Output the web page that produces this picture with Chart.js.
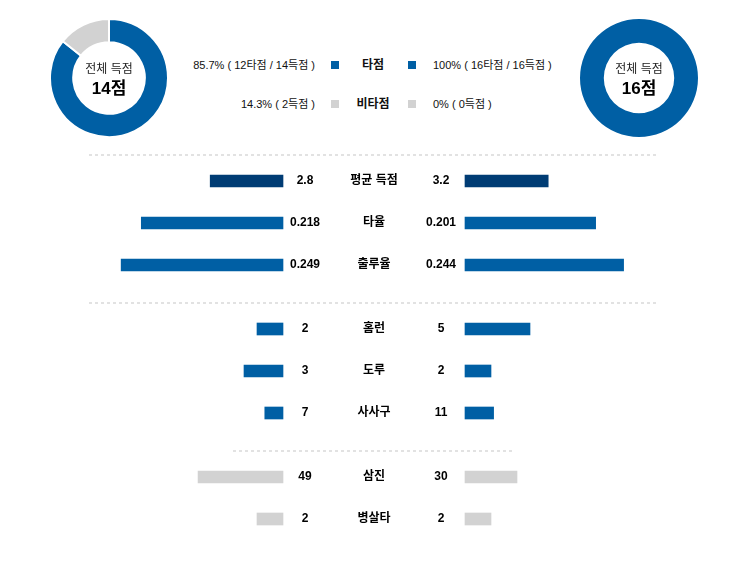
<!DOCTYPE html>
<html>
<head>
<meta charset="utf-8">
<script src="https://cdn.jsdelivr.net/npm/chart.js@4"></script>
<style>
  body { margin: 0; background: #fff; font-family: "Liberation Sans", Arial, "Noto Sans CJK KR", sans-serif; }
  #wrap { position: relative; width: 747px; height: 571px; overflow: hidden; background: #fff; }
  canvas { position: absolute; }
  .dots { position: absolute; height: 2px; background: repeating-linear-gradient(to right, #e2e2e2 0 3px, transparent 3px 6px); }
  .lg { position: absolute; font-size: 11px; color: #111; line-height: 14px; white-space: nowrap; }
  .sq { position: absolute; width: 8px; height: 8px; }
</style>
</head>
<body>
<div id="wrap">
  <canvas id="donutAway" width="124" height="124" style="left:47px;top:16px"></canvas>
  <canvas id="donutHome" width="124" height="124" style="left:577px;top:16px"></canvas>
  <div class="dots" style="left:89px;top:154px;width:568px"></div>
  <canvas id="group0" width="747" height="126" style="left:0;top:160px"></canvas>
  <div class="dots" style="left:89px;top:302px;width:568px"></div>
  <canvas id="group1" width="747" height="126" style="left:0;top:308px"></canvas>
  <div class="dots" style="left:233px;top:450px;width:281px"></div>
  <canvas id="group2" width="747" height="84" style="left:0;top:456px"></canvas>
</div>
<script>
// 득점 구성 (원정, 홈)
const totalRuns = [14, 16];
const rbiRuns = [12, 16];
const nonRbiRuns = [2, 0];
const rbiPct = ['85.7%', '100%'];
const nonRbiPct = ['14.3%', '0%'];

// 비교 항목
const groupLabels = [['평균 득점', '타율', '출루율'], ['홈런', '도루', '사사구'], ['삼진', '병살타']];
const awayValues = [[2.8, 0.218, 0.249], [2, 3, 7], [49, 2]];
const homeValues = [[3.2, 0.201, 0.244], [5, 2, 11], [30, 2]];
const rowMax = [[10, 0.4, 0.4], [20, 20, 100], [150, 20]];

const BLUE = '#005fa4';
const NAVY = '#003c74';
const GRAY = '#d2d2d2';
const groupColors = [[NAVY, BLUE, BLUE], [BLUE, BLUE, BLUE], [GRAY, GRAY]];
const FONT = '"Liberation Sans", Arial, "Noto Sans CJK KR", sans-serif';

const centerText = {
    id: 'centerText',
    afterDraw(chart) {
        const c = chart.ctx;
        const a = chart.getDatasetMeta(0).data[0];
        c.save();
        c.textAlign = 'center';
        c.textBaseline = 'middle';
        c.fillStyle = '#222';
        c.font = '12px ' + FONT;
        c.fillText('전체 득점', a.x, a.y - 8);
        c.fillStyle = '#000';
        c.font = 'bold 17px ' + FONT;
        c.fillText(chart.options.total + '점', a.x, a.y + 11);
        c.restore();
    }
};

function donut(id, i) {
    new Chart(document.getElementById(id), {
        type: 'doughnut',
        data: {
            labels: ['타점', '비타점'],
            datasets: [{
                data: [rbiRuns[i], nonRbiRuns[i]],
                backgroundColor: [BLUE, GRAY],
                borderColor: '#fff',
                borderWidth: nonRbiRuns[i] > 0 ? 2 : 0
            }]
        },
        options: {
            total: totalRuns[i],
            responsive: false,
            animation: false,
            radius: 59,
            cutout: 37,
            layout: { padding: 0 },
            plugins: { legend: { display: false }, tooltip: { enabled: false } }
        },
        plugins: [centerText]
    });
}

donut('donutAway', 0);
donut('donutHome', 1);

// 범례 텍스트
const wrap = document.getElementById('wrap');
function addText(txt, css, bold) {
    const d = document.createElement('div');
    d.className = 'lg';
    d.textContent = txt;
    d.style.cssText = css;
    if (bold) { d.style.fontWeight = 'bold'; d.style.fontSize = '12px'; }
    wrap.appendChild(d);
}
function addSquare(x, y, color) {
    const d = document.createElement('div');
    d.className = 'sq';
    d.style.left = x + 'px';
    d.style.top = y + 'px';
    d.style.background = color;
    wrap.appendChild(d);
}
const legendRows = [
    { name: '타점', color: BLUE, y: 65,
      left: `${rbiPct[0]} ( ${rbiRuns[0]}타점 / ${totalRuns[0]}득점 )`,
      right: `${rbiPct[1]} ( ${rbiRuns[1]}타점 / ${totalRuns[1]}득점 )` },
    { name: '비타점', color: GRAY, y: 104,
      left: `${nonRbiPct[0]} ( ${nonRbiRuns[0]}득점 )`,
      right: `${nonRbiPct[1]} ( ${nonRbiRuns[1]}득점 )` }
];
legendRows.forEach(r => {
    addText(r.left, `right:${747 - 315}px;top:${r.y - 7}px;text-align:right`);
    addSquare(331, r.y - 4, r.color);
    addText(r.name, `left:333px;width:80px;top:${r.y - 7}px;text-align:center`, true);
    addSquare(408, r.y - 4, r.color);
    addText(r.right, `left:433px;top:${r.y - 7}px`);
});

// 좌우 비교 막대
const GAP = 0.35;
const valueLabels = {
    id: 'valueLabels',
    afterDatasetsDraw(chart) {
        const c = chart.ctx;
        const g = chart.options.group;
        const cx = chart.scales.x.getPixelForValue(0);
        c.save();
        c.textAlign = 'center';
        c.textBaseline = 'middle';
        c.fillStyle = '#000';
        c.font = 'bold 12px ' + FONT;
        groupLabels[g].forEach((lab, i) => {
            const y = chart.scales.y.getPixelForValue(i);
            c.fillText(String(awayValues[g][i]), cx - 69, y);
            c.fillText(lab, cx, y);
            c.fillText(String(homeValues[g][i]), cx + 67, y);
        });
        c.restore();
    }
};

function bars(id, g) {
    const left = awayValues[g].map((v, i) => [-(GAP + v / rowMax[g][i]), -GAP]);
    const right = homeValues[g].map((v, i) => [GAP, GAP + v / rowMax[g][i]]);
    new Chart(document.getElementById(id), {
        type: 'bar',
        data: {
            labels: groupLabels[g],
            datasets: [
                { data: left, backgroundColor: groupColors[g], barThickness: 12, grouped: false },
                { data: right, backgroundColor: groupColors[g], barThickness: 12, grouped: false }
            ]
        },
        options: {
            group: g,
            indexAxis: 'y',
            responsive: false,
            animation: false,
            layout: { padding: { left: 23, right: 22, top: 0, bottom: 0 } },
            scales: {
                x: { display: false, min: -1 - GAP, max: 1 + GAP },
                y: { display: false }
            },
            plugins: { legend: { display: false }, tooltip: { enabled: false } }
        },
        plugins: [valueLabels]
    });
}

bars('group0', 0);
bars('group1', 1);
bars('group2', 2);
</script>
</body>
</html>
